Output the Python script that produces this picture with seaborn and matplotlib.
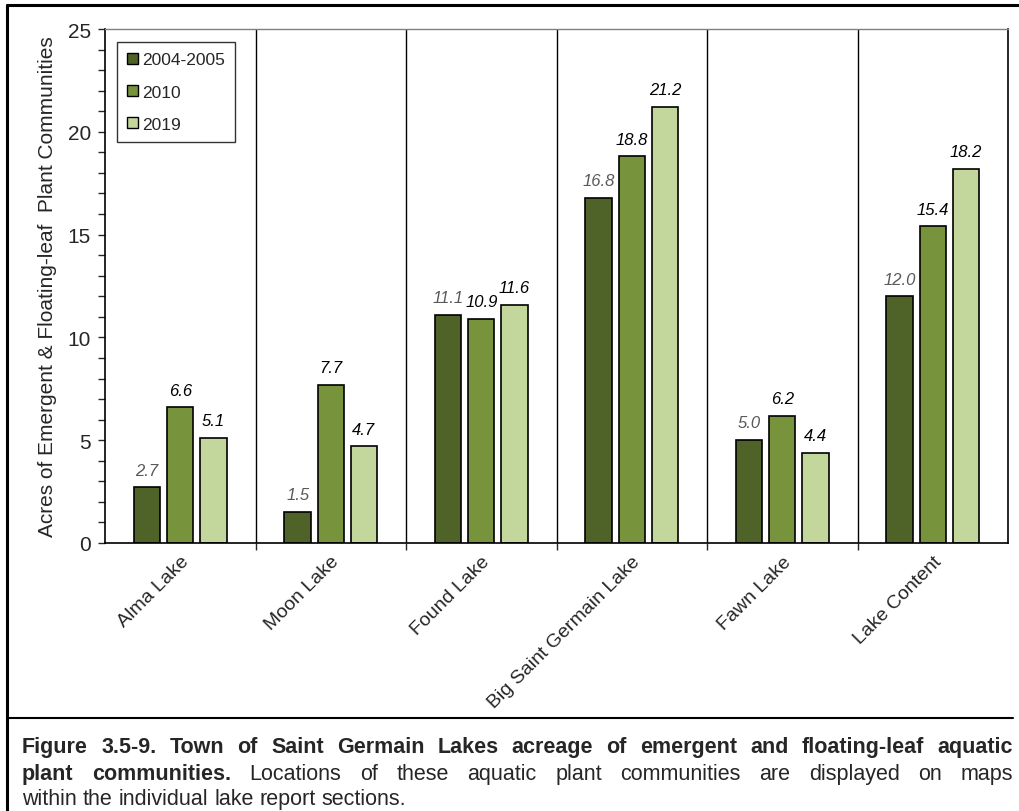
import pandas as pd
import numpy as np
import matplotlib
matplotlib.use("Agg")
import matplotlib.pyplot as plt
import seaborn as sns
from matplotlib.lines import Line2D
from matplotlib.ticker import MultipleLocator, FixedLocator

lakes = ["Alma Lake", "Moon Lake", "Found Lake", "Big Saint Germain Lake", "Fawn Lake", "Lake Content"]
years = ["2004-2005", "2010", "2019"]
acres_2004 = [2.7, 1.5, 11.1, 16.8, 5.0, 12.0]
acres_2010 = [6.6, 7.7, 10.9, 18.8, 6.2, 15.4]
acres_2019 = [5.1, 4.7, 11.6, 21.2, 4.4, 18.2]
colors = ["#4F6228", "#77933C", "#C3D69B"]

df = pd.DataFrame({
    "lake": lakes * 3,
    "year": np.repeat(years, len(lakes)),
    "acres": acres_2004 + acres_2010 + acres_2019,
})

sns.set_style("white")
plt.rcParams["font.family"] = ["Liberation Sans", "DejaVu Sans"]

fig = plt.figure(figsize=(10.19, 8.12), dpi=100)
ax = fig.add_axes([105 / 1019, 1 - 544 / 812, (1008 - 105) / 1019, (544 - 30) / 812])

sns.barplot(data=df, x="lake", y="acres", hue="year", palette=colors, ax=ax,
            width=0.66, gap=0.2, edgecolor="black", linewidth=1.2, saturation=1)

# value labels
label_colors = ["#595959", "black", "black"]
for cont, c in zip(ax.containers, label_colors):
    ax.bar_label(cont, fmt="%.1f", padding=7, fontsize=12, style="italic", color=c)

# group separators
for xb in np.arange(0.5, len(lakes) - 0.5, 1):
    ax.axvline(xb, color="black", lw=1)

ax.set_xlim(-0.5, len(lakes) - 0.5)
ax.set_ylim(0, 25)
ax.yaxis.set_major_locator(MultipleLocator(5))
ax.yaxis.set_minor_locator(MultipleLocator(1))
ax.xaxis.set_minor_locator(FixedLocator(np.arange(0.5, len(lakes) - 0.5, 1)))
ax.tick_params(axis="y", which="both", direction="out", left=True, length=5, width=1, labelsize=15, pad=5)
ax.tick_params(axis="x", which="minor", direction="out", bottom=True, length=5, width=1)
ax.tick_params(axis="x", which="major", length=0, pad=7)
ax.set_xticks(range(len(lakes)))
ax.set_xticklabels(lakes, rotation=45, ha="right", rotation_mode="anchor", fontsize=14)
ax.set_xlabel("")
ax.set_ylabel("Acres of Emergent & Floating-leaf  Plant Communities", fontsize=15, labelpad=8)

for s in ax.spines.values():
    s.set_visible(True)
    s.set_color("black")
    s.set_linewidth(1.2)
ax.spines["top"].set_color("#808080")
ax.spines["top"].set_linewidth(1)

leg = ax.legend(loc="upper left", bbox_to_anchor=(0.013, 0.975), borderaxespad=0, fontsize=12.5,
                frameon=True, fancybox=False, edgecolor="black", handlelength=0.6, handleheight=0.6,
                handletextpad=0.25, labelspacing=1.0, borderpad=0.6, title=None)
leg.get_frame().set_linewidth(1)
for h in leg.legend_handles:
    h.set_edgecolor("black")
    h.set_linewidth(1)

# outer frame lines
W, H = 1019, 812
fig.add_artist(Line2D([7 / W, 1], [1 - 6 / H, 1 - 6 / H], color="black", lw=2.2))
fig.add_artist(Line2D([7 / W, 7 / W], [0, 1 - 6 / H], color="black", lw=2.2))
fig.add_artist(Line2D([7 / W, 1013 / W], [1 - 719 / H, 1 - 719 / H], color="black", lw=1.5))

# caption, justified
caption = [
    ([("Figure 3.5-9.  Town of Saint Germain Lakes acreage of emergent and floating-leaf aquatic", "bold")], True),
    ([("plant communities.", "bold"), ("  Locations of these aquatic plant communities are displayed on maps", "normal")], True),
    ([("within the individual lake report sections.", "normal")], False),
]
cap_font = ["Liberation Sans Narrow", "Liberation Sans", "DejaVu Sans"]
cap_size = 15.5
x0, x1 = 22, 1013
baselines = [753, 780, 805]
fig.canvas.draw()
renderer = fig.canvas.get_renderer()


def word_width(word, weight):
    t = fig.text(0, 0, word, fontsize=cap_size, fontweight=weight, family=cap_font)
    w = t.get_window_extent(renderer).width
    t.remove()
    return w


for (segments, justify), yb in zip(caption, baselines):
    words = []
    for text, weight in segments:
        for w in text.split():
            words.append((w, weight))
    widths = [word_width(w, wt) for w, wt in words]
    space = word_width("a b", "normal") - word_width("ab", "normal")
    if justify and len(words) > 1:
        gap = (x1 - x0 - sum(widths)) / (len(words) - 1)
    else:
        gap = space
    x = x0
    for (w, wt), ww in zip(words, widths):
        fig.text(x / W, 1 - yb / H, w, fontsize=cap_size, fontweight=wt, family=cap_font,
                 ha="left", va="baseline")
        x += ww + gap

fig.savefig("out.png", dpi=100)
